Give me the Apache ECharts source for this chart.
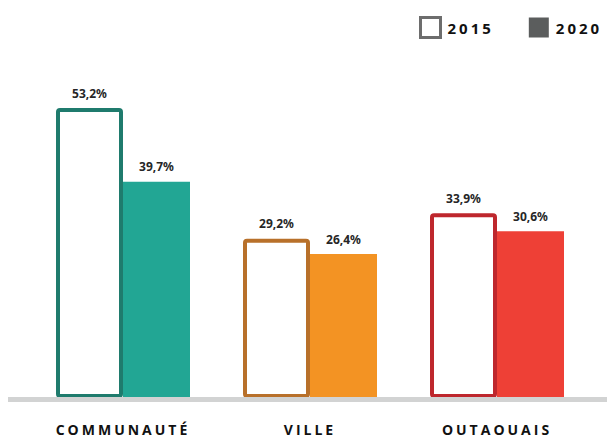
<!DOCTYPE html>
<html><head><meta charset="utf-8">
<script src="https://cdn.jsdelivr.net/npm/echarts@6/dist/echarts.min.js"></script>
<style>
html,body{margin:0;padding:0;background:#fff;}
#c{width:607px;height:437px;}
#c text[style*="Open Sans"]{letter-spacing:3px;}
</style></head>
<body><div id="c"></div>
<script>
const categories = ['COMMUNAUTÉ', 'VILLE', 'OUTAOUAIS'];
const seriesNames = ['2015', '2020'];
const values2015 = [53.2, 29.2, 33.9];
const values2020 = [39.7, 26.4, 30.6];
const borderColors2015 = ['#1f7b6d', '#b8702a', '#be272d'];
const fillColors2020 = ['#22a694', '#f39323', '#ee4036'];

const fmt = p => p.value.toFixed(1).replace('.', ',') + '%';
const labelStyle = {show: true, position: 'top', distance: 9, formatter: fmt,
  fontFamily: 'Noto Sans', fontWeight: 'bold', fontSize: 12, color: '#262626'};

const chart = echarts.init(document.getElementById('c'), null, {renderer: 'svg'});
chart.setOption({
  animation: false,
  grid: {left: 29.5, right: 16.5, top: 71, bottom: 39},
  legend: {
    top: 11, left: 414, itemWidth: 20, itemHeight: 20, itemGap: 47,
    textStyle: {fontFamily: 'Open Sans', fontWeight: 'bold', fontSize: 15, color: '#111', padding: [0, 0, 0, 2]},
    data: [
      {name: '2015', icon: 'rect', itemStyle: {color: '#fff', borderColor: '#6d6d6d', borderWidth: 3}},
      {name: '2020', icon: 'rect', itemStyle: {color: '#5b5d5d', borderWidth: 0}}
    ]
  },
  xAxis: {
    type: 'category', data: categories,
    axisLine: {show: false}, axisTick: {show: false},
    axisLabel: {margin: 24, fontFamily: 'Open Sans', fontWeight: 'bold', fontSize: 14, color: '#111'}
  },
  yAxis: {type: 'value', min: 0, max: 60, show: false, splitLine: {show: false}},
  series: [
    {
      name: seriesNames[0], type: 'bar', barWidth: 67, barGap: '0%',
      data: values2015.map((v, i) => ({value: v, itemStyle: {color: '#fff', borderColor: borderColors2015[i], borderWidth: 4, borderRadius: 2}})),
      itemStyle: {color: '#fff', borderColor: '#6d6d6d'},
      label: labelStyle
    },
    {
      name: seriesNames[1], type: 'bar', barWidth: 67, barGap: '0%',
      data: values2020.map((v, i) => ({value: v, itemStyle: {color: fillColors2020[i]}})),
      itemStyle: {color: '#5b5d5d'},
      label: labelStyle
    }
  ],
  graphic: [{
    type: 'rect', z: 100, shape: {x: 8, y: 397, width: 599, height: 5},
    style: {fill: '#d2d3d3'}
  }]
});
</script></body></html>
